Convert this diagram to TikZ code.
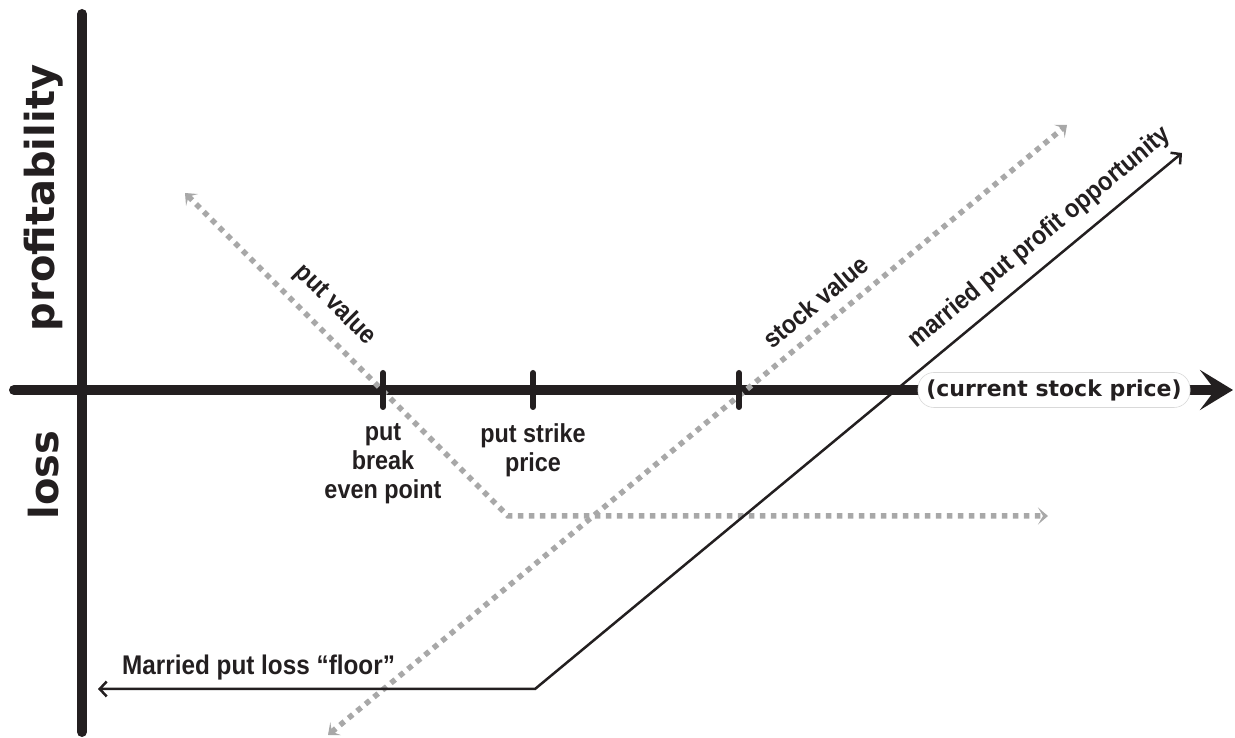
\documentclass[tikz,border=0pt]{standalone}
\usepackage{fontspec}
\usepackage{xcolor}
\usepackage{tikz}
\usetikzlibrary{arrows.meta,positioning}
\newfontfamily\condfont{Liberation Sans}[FakeStretch=0.9]
\newfontfamily\heavyfont{DejaVu Sans}
\definecolor{ink}{HTML}{231F20}
\definecolor{valgray}{HTML}{A8A8A8}

\begin{document}
\begin{tikzpicture}[x=1pt, y=1pt,
    axisline/.style={line width=10pt, line cap=round, draw=ink},
    tickmark/.style={line width=6pt, line cap=round, draw=ink},
    valueline/.style={line width=5.5pt, draw=valgray, dash pattern=on 5.5pt off 5.5pt,
        >={Stealth[length=10pt,width=17pt,inset=5pt]}, <->},
    payoff/.style={line width=2.5pt, draw=ink, >={Straight Barb[length=7pt,width=15pt]}, <->},
    ticklabel/.style={font=\condfont\bfseries\fontsize{26}{29}\selectfont, align=center, inner sep=0pt, text=ink},
    linelabel/.style={font=\condfont\bfseries\fontsize{26}{29}\selectfont, inner sep=0pt, text=ink},
    sidelabel/.style={font=\heavyfont\bfseries\fontsize{40}{40}\selectfont, rotate=90, inner sep=0pt, text=ink},
    pricebox/.style={fill=white, draw=black!15, line width=0.6pt, rounded corners=16pt,
        minimum width=272pt, minimum height=35pt, inner sep=0pt,
        font=\heavyfont\bfseries\fontsize{22}{22}\selectfont, text=ink}]
    \useasboundingbox (0,0) rectangle (1235,738);

    \coordinate (ytop) at (82,724);
    \coordinate (ybot) at (82,6);
    \coordinate (xstart) at (14,348);
    \coordinate (xtip) at (1233,348);
    \coordinate (tickBE) at (383,348);
    \coordinate (tickStrike) at (533,348);
    \coordinate (tickStock) at (739,348);

    \coordinate (putTip) at (185,545);
    \coordinate (putKink) at (508,222);
    \coordinate (putEnd) at (1048,222);
    \coordinate (stockLow) at (328,3);
    \coordinate (stockHigh) at (1067,613);
    \coordinate (floorTip) at (98,49);
    \coordinate (floorKink) at (535,49);
    \coordinate (profitTip) at (1182,585);

    \draw[axisline] (ybot) -- (ytop);
    \draw[axisline, -{Stealth[length=33pt,width=40pt,inset=15pt]}] (xstart) -- (xtip);
    \node[pricebox] (price) at (1054,348) {(current stock price)};

    \draw[valueline] (putTip) -- (putKink) -- (putEnd);
    \draw[valueline] (stockLow) -- (stockHigh);
    \draw[payoff] (floorTip) -- (floorKink) -- (profitTip);

    \foreach \t in {tickBE,tickStrike,tickStock}
        \draw[tickmark] ([yshift=17pt]\t) -- ([yshift=-17pt]\t);

    \node[sidelabel] (profitability) at (44,540) {profitability};
    \node[sidelabel] (lossLabel) at (44,263) {loss};
    \node[ticklabel, below=33pt of tickBE] (beLabel) {put\\break\\even point};
    \node[ticklabel, below=33pt of tickStrike] (strikeLabel) {put strike\\price};
    \node[linelabel, rotate=-45] (putLabel) at (335,433) {put value};
    \node[linelabel, rotate=39.6] (stockLabel) at (816,436) {stock value};
    \node[linelabel, rotate=39.6] (profitLabel) at (1040,500) {married put profit opportunity};
    \node[linelabel, anchor=west, font=\condfont\bfseries\fontsize{27}{30}\selectfont] (floorLabel) at (122,70) {Married put loss “floor”};
\end{tikzpicture}
\end{document}
